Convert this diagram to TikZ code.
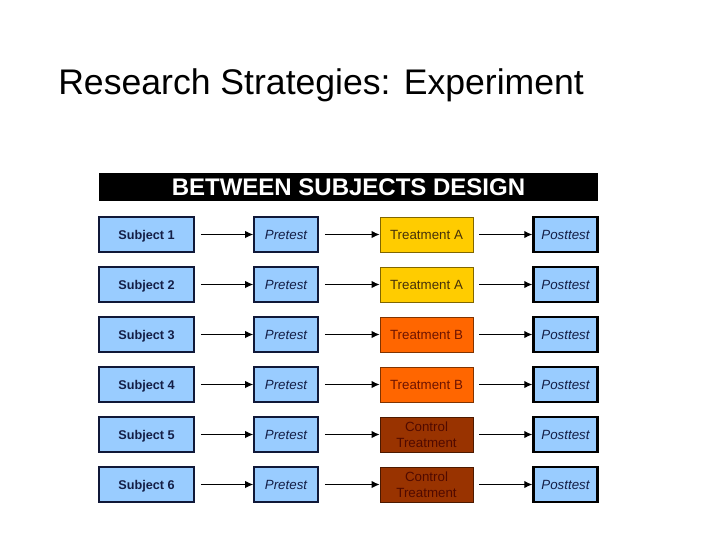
\documentclass[tikz,border=0pt]{standalone}
\usepackage{fontspec}
\setmainfont{Liberation Sans}
\usetikzlibrary{arrows.meta}
\definecolor{boxblue}{RGB}{153,204,255}
\definecolor{gold}{RGB}{255,204,0}
\definecolor{orng}{RGB}{255,102,0}
\definecolor{brwn}{RGB}{153,51,0}
\definecolor{navytext}{RGB}{20,30,70}
\definecolor{atext}{RGB}{70,50,10}
\definecolor{btext}{RGB}{110,20,0}
\definecolor{ctext}{RGB}{80,10,0}
\tikzset{
  cell/.style={rectangle, inner sep=0pt, minimum height=35*0.75pt, align=center},
  subjbox/.style={cell, fill=boxblue, draw=navytext!80!black, line width=1.6*0.75pt,
    minimum width=95*0.75pt, text=navytext, text depth=0pt, font=\bfseries\fontsize{9.5}{11}\selectfont},
  prebox/.style={cell, fill=boxblue, draw=navytext!80!black, line width=1.6*0.75pt,
    minimum width=64*0.75pt, text=navytext, font=\itshape\fontsize{10}{12}\selectfont},
  postbox/.style={cell, fill=boxblue, draw=black, line width=2.4*0.75pt,
    minimum width=64*0.75pt, text=navytext, font=\itshape\fontsize{10}{12}\selectfont},
  treat/.style={cell, minimum width=93*0.75pt, line width=0.8*0.75pt, font=\fontsize{10}{12}\selectfont},
  ta/.style={treat, fill=gold, draw=gold!50!black, text=atext},
  tb/.style={treat, fill=orng, draw=orng!50!black, text=btext},
  tc/.style={treat, fill=brwn, draw=brwn!50!black, text=ctext},
  arr/.style={-{Latex[length=6pt,width=5.5pt]}, line width=0.75pt, black, shorten <=6*0.75pt},
}
\begin{document}
\begin{tikzpicture}[x=0.75pt,y=-0.75pt]
\useasboundingbox (0,0) rectangle (720,540);
\node[anchor=base west, inner sep=0pt, font=\fontsize{26.7}{32}\selectfont] (title) at (58,94) {Research Strategies: Experiment};
\node[rectangle, fill=black, inner sep=0pt, minimum width=499*0.75pt, minimum height=28*0.75pt,
  text=white, font=\bfseries\fontsize{18}{20}\selectfont] (hdr) at (348.5,187) {BETWEEN SUBJECTS DESIGN};
\foreach \i/\t/\sty in {1/{Treatment A}/ta, 2/{Treatment A}/ta, 3/{Treatment B}/tb, 4/{Treatment B}/tb, 5/{Control\\Treatment}/tc, 6/{Control\\Treatment}/tc} {
  \pgfmathsetmacro{\yy}{234.5+50*(\i-1)}
  \node[subjbox] (s\i) at (146.5,\yy) {Subject \i};
  \node[prebox] (p\i) at (286,\yy) {Pretest};
  \node[\sty] (t\i) at (426.5,\yy) {\t};
  \node[postbox] (q\i) at (565.5,\yy) {Posttest};
  \draw[arr] (s\i.east) -- (p\i.west);
  \draw[arr] (p\i.east) -- (t\i.west);
  \draw[arr] (t\i.east) -- (q\i.west);
}
\end{tikzpicture}
\end{document}
